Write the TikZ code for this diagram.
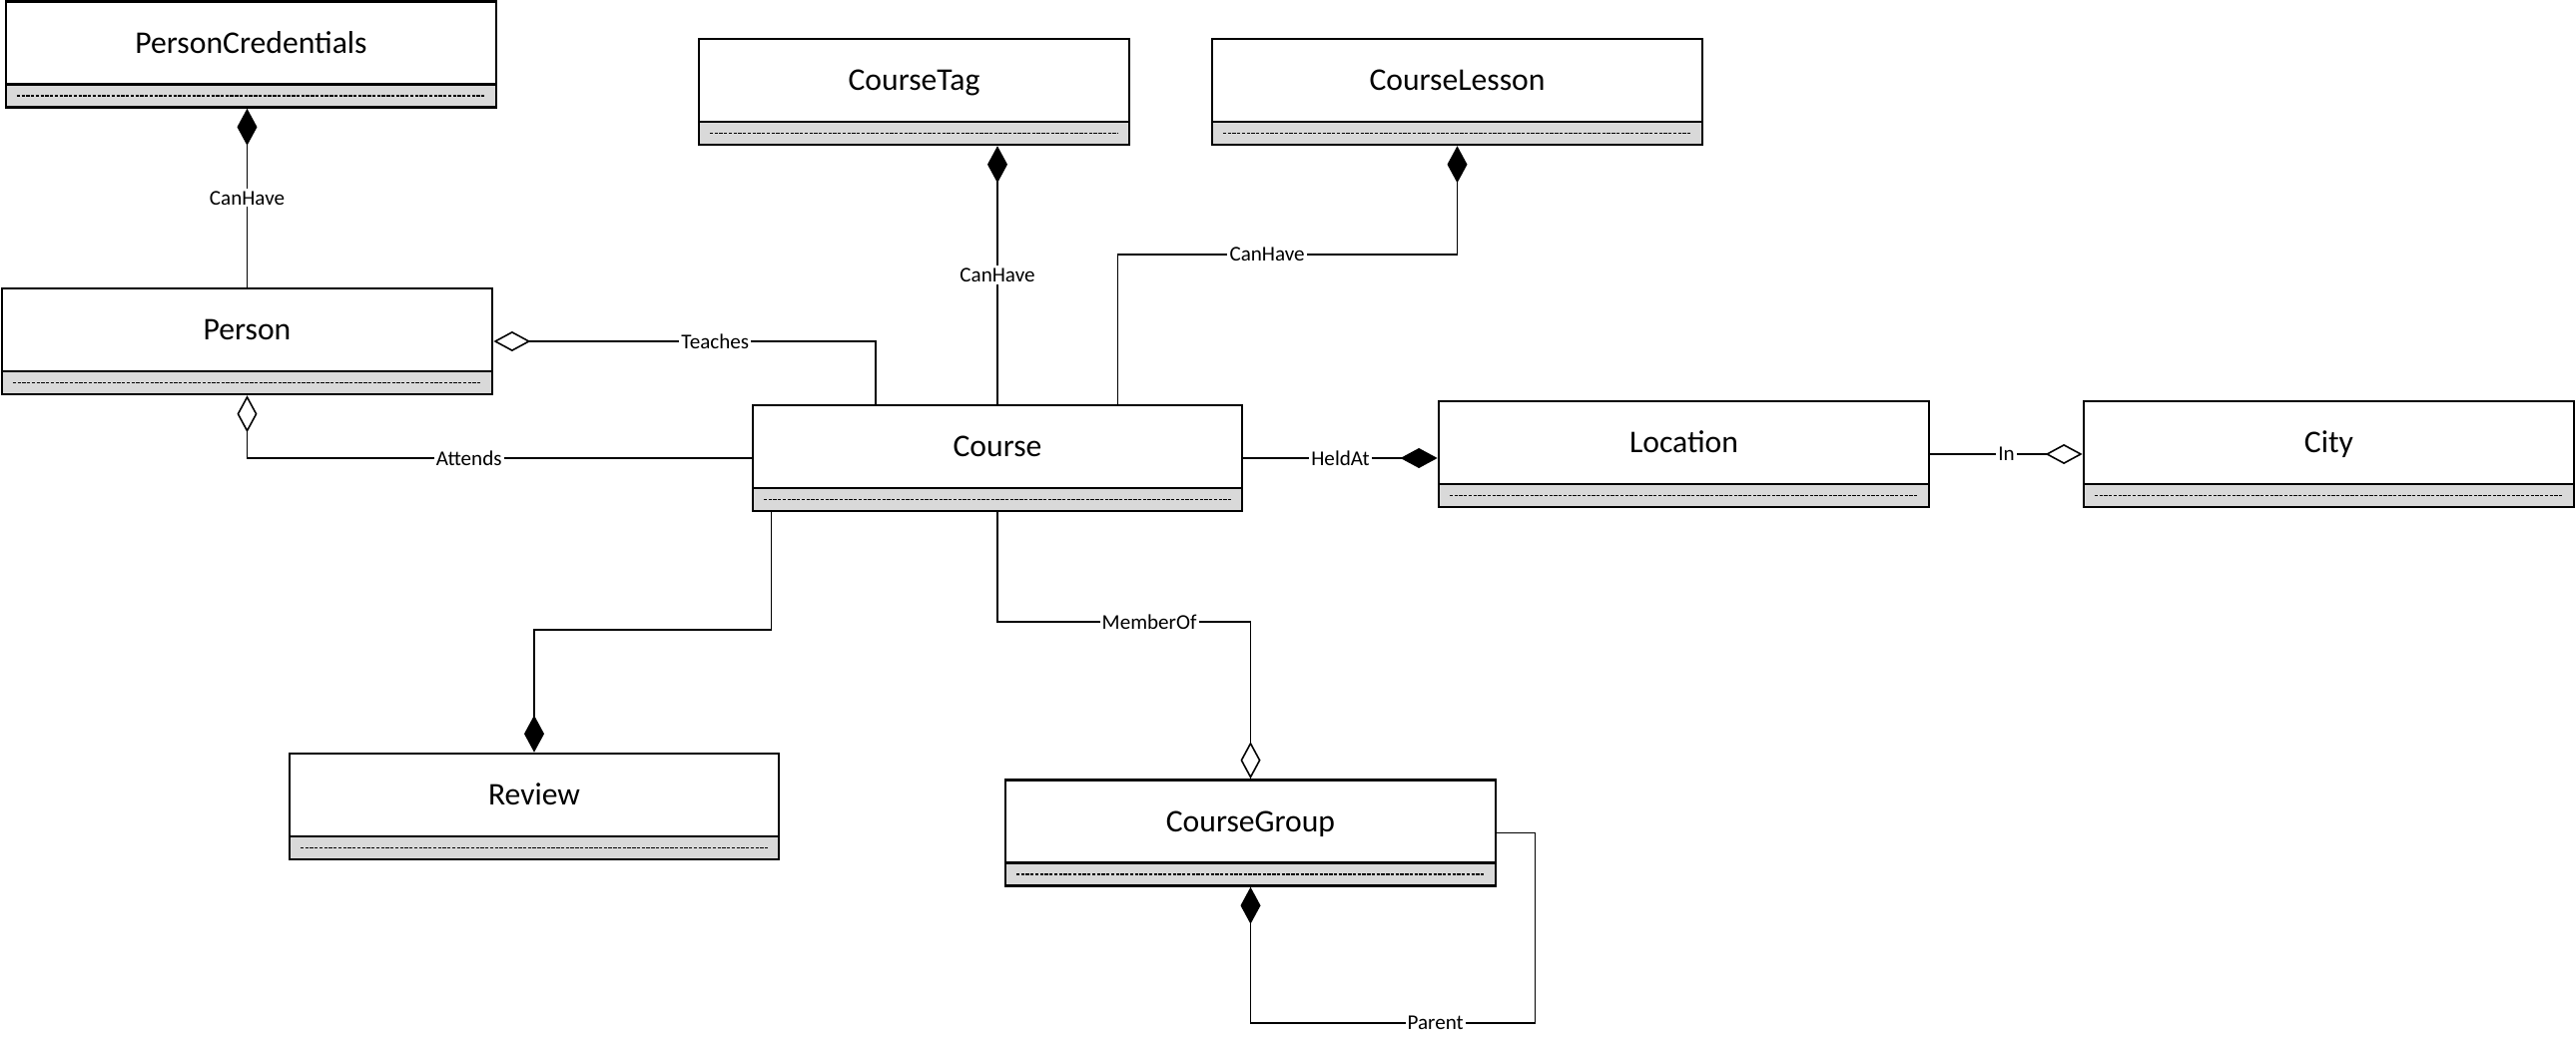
\documentclass[tikz,border=0pt]{standalone}
\usepackage{fontspec}
\setmainfont{Carlito}
\usetikzlibrary{arrows.meta}
\definecolor{attrgray}{RGB}{217,217,217}
\begin{document}
\begin{tikzpicture}[x=0.01cm,y=-0.01cm,
  cls/.style={draw, line width=0.7pt, inner sep=0pt, minimum height=1.06cm, minimum width=4.91cm,
    text height=5.8pt, text depth=0.23cm, font=\fontsize{9}{11}\selectfont,
    path picture={
      \fill[attrgray] (path picture bounding box.south west) rectangle ([yshift=0.23cm]path picture bounding box.south east);
      \draw[line width=0.7pt] ([yshift=0.23cm]path picture bounding box.south west) -- ([yshift=0.23cm]path picture bounding box.south east);
      \draw[line width=0.55pt, dash pattern=on 0.95pt off 0.4pt] ([xshift=0.11cm,yshift=0.115cm]path picture bounding box.south west) -- ([xshift=-0.11cm,yshift=0.115cm]path picture bounding box.south east);
    }},
  rel/.style={fill=white, inner sep=0.6pt, font=\fontsize{6}{7}\selectfont},
  comp/.style={line width=0.45pt, -{Diamond[length=0.37cm, width=0.2cm]}},
  agg/.style={line width=0.45pt, -{Diamond[open, fill=white, length=0.37cm, width=0.2cm]}}]
\useasboundingbox (0,0) rectangle (2580,1046);
%classes
        \node[cls] (cred) at (251.5,54.5) {PersonCredentials};
        \node[cls] (person) at (247.5,342) {Person};
        \node[cls,minimum width=4.31cm] (tag) at (915.5,92) {CourseTag};
        \node[cls] (lesson) at (1459.5,92) {CourseLesson};
        \node[cls,minimum width=4.90cm] (course) at (999,459) {Course};
        \node[cls] (location) at (1686.5,455) {Location};
        \node[cls] (city) at (2332.5,455) {City};
        \node[cls,minimum width=4.90cm] (review) at (535,808) {Review};
        \node[cls] (group) at (1252.5,834.5) {CourseGroup};
%relations
        \draw [comp] (person.north) -- (person.north |- cred.south) node[rel,midway] {CanHave};
        \draw [agg] ([xshift=-1.22cm]course.north) |- node[rel,pos=0.71] {Teaches} (person.east);
        \draw [agg] (course.west) -| node[rel,pos=0.28] {Attends} (person.south);
        \draw [comp] (course.north) -- (course.north |- tag.south) node[rel,midway] {CanHave};
        \draw [comp] ([xshift=1.205cm]course.north) -- ++(0,-150) -| node[rel,pos=0.22] {CanHave} (lesson.south);
        \draw [comp] (course.east) -- (course.east -| location.west) node[rel,midway] {HeldAt};
        \draw [agg] (location.east) -- (city.west) node[rel,midway] {In};
        \draw [comp] ([xshift=0.2cm]course.south west) -- ++(0,118) -| (review.north);
        \draw [agg] (course.south) -- ++(0,110) -| node[rel,pos=0.3] {MemberOf} (group.north);
        \draw [comp] (group.east) -- ++(38,0) -- ++(0,190.5) -| node[rel,pos=0.175] {Parent} (group.south);
    \end{tikzpicture}
\end{document}
